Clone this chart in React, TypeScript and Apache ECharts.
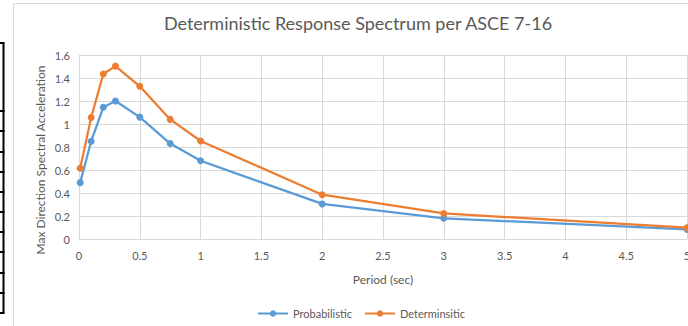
import React, { useEffect, useRef } from "react";
import * as echarts from "echarts";

const periods = [0.01, 0.1, 0.2, 0.3, 0.5, 0.75, 1, 2, 3, 5];
const probabilistic = [0.49, 0.85, 1.145, 1.2, 1.06, 0.83, 0.68, 0.305, 0.18, 0.084];
const deterministic = [0.615, 1.057, 1.435, 1.503, 1.328, 1.04, 0.852, 0.385, 0.222, 0.098];
const seriesNames = ["Probabilistic", "Determinsitic"];
const titleText = "Deterministic Response Spectrum per ASCE 7-16";
const xAxisTitle = "Period (sec)";
const yAxisTitle = "Max Direction Spectral Acceleration";
const cellBorderYs = [43, 111, 131, 152, 172, 192, 212, 232, 252, 273, 293, 313];

const FONT = "Lato, 'Liberation Sans', sans-serif";
const GRAY_TEXT = "#595959";
const GRID = "#d9d9d9";

export default function App() {
  const ref = useRef<HTMLDivElement>(null);
  useEffect(() => {
    if (!ref.current) return;
    const chart = echarts.init(ref.current, null, { renderer: "svg" });
    const graphics: any[] = [
      // chart frame
      { type: "line", shape: { x1: 13.5, y1: 3.5, x2: 13.5, y2: 326 }, style: { stroke: GRID, lineWidth: 1 } },
      { type: "line", shape: { x1: 13.5, y1: 3.5, x2: 688, y2: 3.5 }, style: { stroke: GRID, lineWidth: 1 } },
      // spreadsheet cell borders on left
      { type: "line", shape: { x1: 3.5, y1: cellBorderYs[0], x2: 3.5, y2: cellBorderYs[cellBorderYs.length - 1] }, style: { stroke: "#000", lineWidth: 2 } },
      ...cellBorderYs.map((y) => ({
        type: "line",
        shape: { x1: 0, y1: y, x2: 4.5, y2: y },
        style: { stroke: "#000", lineWidth: 2 },
      })),
      {
        type: "text",
        x: 358,
        y: 23,
        style: { text: titleText, fill: GRAY_TEXT, font: `18px ${FONT}`, textAlign: "center", textVerticalAlign: "middle" },
      },
      {
        type: "text",
        x: 40,
        y: 160,
        rotation: Math.PI / 2,
        style: { text: yAxisTitle, fill: GRAY_TEXT, font: `12px ${FONT}`, textAlign: "center", textVerticalAlign: "middle" },
      },
    ];
    chart.setOption({
      animation: false,
      backgroundColor: "#fff",
      textStyle: { fontFamily: FONT },
      grid: { left: 79, right: 1, top: 55, bottom: 326 - 239, containLabel: false, outerBoundsMode: "none" },
      graphic: graphics,
      legend: {
        left: 252,
        top: 303,
        itemWidth: 30,
        itemHeight: 8,
        itemGap: 12,
        textStyle: { color: GRAY_TEXT, fontSize: 11, fontFamily: FONT },
        data: seriesNames,
      },
      xAxis: {
        type: "value",
        min: 0,
        max: 5,
        interval: 0.5,
        name: xAxisTitle,
        nameLocation: "middle",
        nameGap: 34,
        nameTextStyle: { color: GRAY_TEXT, fontSize: 12, fontFamily: FONT },
        axisLine: { show: true, lineStyle: { color: GRID } },
        axisTick: { show: false },
        axisLabel: { color: GRAY_TEXT, fontSize: 11, margin: 11, hideOverlap: false },
        splitLine: { show: true, lineStyle: { color: GRID } },
      },
      yAxis: {
        type: "value",
        min: 0,
        max: 1.6,
        interval: 0.2,
        axisLine: { show: true, lineStyle: { color: GRID } },
        axisTick: { show: false },
        axisLabel: { color: GRAY_TEXT, fontSize: 11, margin: 9 },
        splitLine: { show: true, lineStyle: { color: GRID } },
      },
      series: [
        {
          name: seriesNames[0],
          type: "line",
          data: periods.map((p, i) => [p, probabilistic[i]]),
          symbol: "circle",
          symbolSize: 7,
          itemStyle: { color: "#5b9bd5" },
          lineStyle: { color: "#5b9bd5", width: 2.25 },
        },
        {
          name: seriesNames[1],
          type: "line",
          data: periods.map((p, i) => [p, deterministic[i]]),
          symbol: "circle",
          symbolSize: 7,
          itemStyle: { color: "#ed7d31" },
          lineStyle: { color: "#ed7d31", width: 2.25 },
        },
      ],
    });
    return () => chart.dispose();
  }, []);
  return (
    <div
      ref={ref}
      style={{ position: "fixed", left: 0, top: 0, width: 688, height: 326, background: "#fff" }}
    />
  );
}
